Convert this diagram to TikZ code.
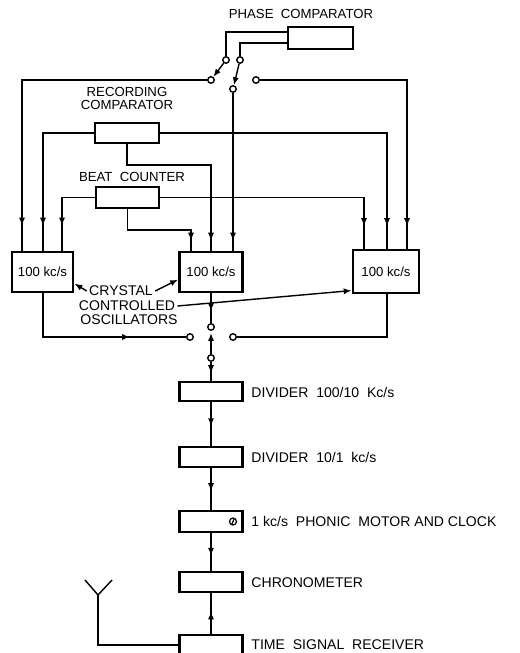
\documentclass[tikz,border=0pt]{standalone}
\usepackage{fontspec}
\setmainfont{Liberation Sans}
\usetikzlibrary{arrows.meta,decorations.markings,calc}
\begin{document}
\begin{tikzpicture}[x=0.02cm,y=-0.02cm,
  line width=0.8pt,
  box/.style={draw, line width=1.6pt, inner sep=0pt, minimum width=1.26cm, minimum height=0.40cm},
  osc/.style={box, minimum height=0.80cm, font=\fontsize{7.5}{8}\selectfont},
  sw/.style={draw, circle, line width=0.8pt, inner sep=0pt, minimum size=0.13cm, fill=white},
  lbl/.style={font=\fontsize{7.5}{7.6}\selectfont, inner sep=1pt},
  rlbl/.style={font=\fontsize{8}{9}\selectfont, inner sep=1pt, anchor=west},
  clbl/.style={font=\fontsize{8}{9}\selectfont, inner sep=1pt},
  tip/.style={-{Latex[length=4.5pt,width=3.5pt]}},
  marrow/.style={postaction={decorate}, decoration={markings, mark=at position #1 with {\arrow{Latex[length=4.5pt,width=3.5pt]}}}}
]
\useasboundingbox (0,0) rectangle (520,653);
\clip (0,0) rectangle (520,653);

% helper coordinates
\coordinate (yA) at (0,32);
\coordinate (yB) at (0,43);
\coordinate (xL1) at (22,0);
\coordinate (xL2) at (43,0);
\coordinate (xL3) at (62,0);
\coordinate (xR1) at (364,0);
\coordinate (xR2) at (387,0);
\coordinate (xR3) at (407,0);
\coordinate (kRC) at (211,165);
\coordinate (kBC) at (191,230);
\coordinate (swT) at (211,333);
\coordinate (yR) at (0,645);
\coordinate (antB) at (98,595);
\coordinate (antL) at (85,580);
\coordinate (antR) at (112,580);

% boxes
\node[box, minimum width=1.30cm, minimum height=0.44cm] (PC) at (320.5,38) {};
\node[lbl] (PCl) at (301,14) {PHASE\ \ COMPARATOR};
\node[box, minimum width=1.28cm] (RC) at (127,133) {};
\node[lbl, align=center] (RCl) at (127,98.5) {RECORDING\\COMPARATOR};
\node[box, minimum height=0.42cm] (BC) at (127.5,197.5) {};
\node[lbl] (BCl) at (132,177) {BEAT\ \ COUNTER};
\node[osc, minimum width=1.22cm] (LO) at (42.5,272) {100 kc/s};
\node[osc] (MO) at (211,272) {100 kc/s};
\node[osc, minimum width=1.32cm, minimum height=0.86cm] (RO) at (386,271.5) {100 kc/s};

\node[box, minimum height=0.38cm] (D1) at (211,391.5) {};
\node[box] (D2) at (211,457) {};
\node[box, minimum height=0.42cm] (PM) at (211,521.5) {};
\node[box] (CH) at (211,582) {};
\node[box, minimum height=0.80cm] (RX) at (211,655) {};

\node[rlbl] (D1l) at (249,392) {DIVIDER\ \ 100/10\ \ Kc/s};
\node[rlbl] (D2l) at (249,457) {DIVIDER\ \ 10/1\ \ kc/s};
\node[rlbl] (PMl) at (249,521.5) {1 kc/s\ \ PHONIC\ \ MOTOR\ AND\ CLOCK};
\node[rlbl] (CHl) at (249,583) {CHRONOMETER};
\node[rlbl] (RXl) at (249,645) {TIME\ \ SIGNAL\ \ RECEIVER};

% phonic motor symbol
\draw[line width=0.7pt] (233,521.5) circle[radius=0.07cm];
\draw[line width=0.7pt] (231.5,525) -- (234.5,518);

% switch contacts
\node[sw] (sA) at (226,60) {};
\node[sw] (sB) at (240,60) {};
\node[sw] (sC) at (211,80) {};
\node[sw] (sD) at (233,89) {};
\node[sw] (sE) at (256,80) {};
\node[sw] (sF) at (211,327) {};
\node[sw] (sG) at (190,337) {};
\node[sw] (sH) at (233,337) {};
\node[sw] (sI) at (211,358) {};

% phase comparator
\draw (PC.west |- yA) -| (sA);
\draw (PC.west |- yB) -| (sB);
\draw[tip] (sA) -- (sC);
\draw[tip] (sB) -- (sD);
\draw[marrow=-0.5cm] (sC) -| (LO.north -| xL1);
\draw[marrow=-0.2cm] (sD) -- (MO.north -| sD);
\draw[marrow=-0.45cm] (sE) -| (RO.north -| xR3);

% recording comparator
\draw[marrow=-0.5cm] (RC.west) -| (LO.north -| xL2);
\draw[marrow=-0.45cm] (RC.east) -| (RO.north -| xR2);
\draw[marrow=-0.2cm] (RC.south) |- (kRC) -- (MO.north -| kRC);

% beat counter
\draw[marrow=-0.5cm] (BC.west) -| (LO.north -| xL3);
\draw[marrow=-0.45cm] (BC.east) -| (RO.north -| xR1);
\draw[marrow=-0.2cm] (BC.south) |- (kBC) -- (MO.north -| kBC);

% crystal label
\node[clbl] (cr1) at (121,291) {CRYSTAL};
\node[clbl] (cr2) at (127,306) {CONTROLLED};
\node[clbl] (cr3) at (129,320) {OSCILLATORS};
\draw[tip] (cr1.west) -- (LO.-20);
\draw[tip] (cr1.east) -- (MO.193);
\draw[tip] (cr2.east) -- (RO.209);

% output switch
\draw[marrow=0.7] (LO.south -| xL2) |- (sG);
\draw (RO.south -| xR2) |- (sH);
\draw[marrow=0.6] (MO.south) -- (sF);
\draw[tip] (sI) -- (swT);

% chain
\draw[marrow=0.6] (sI) -- (D1);
\draw[marrow=0.55] (D1) -- (D2);
\draw[marrow=0.55] (D2) -- (PM);
\draw[marrow=0.6] (PM) -- (CH);
\draw[marrow=0.55] (RX) -- (CH);

% antenna
\draw (RX.west |- yR) -| (antB);
\draw (antL) -- (antB) -- (antR);
\end{tikzpicture}
\end{document}
